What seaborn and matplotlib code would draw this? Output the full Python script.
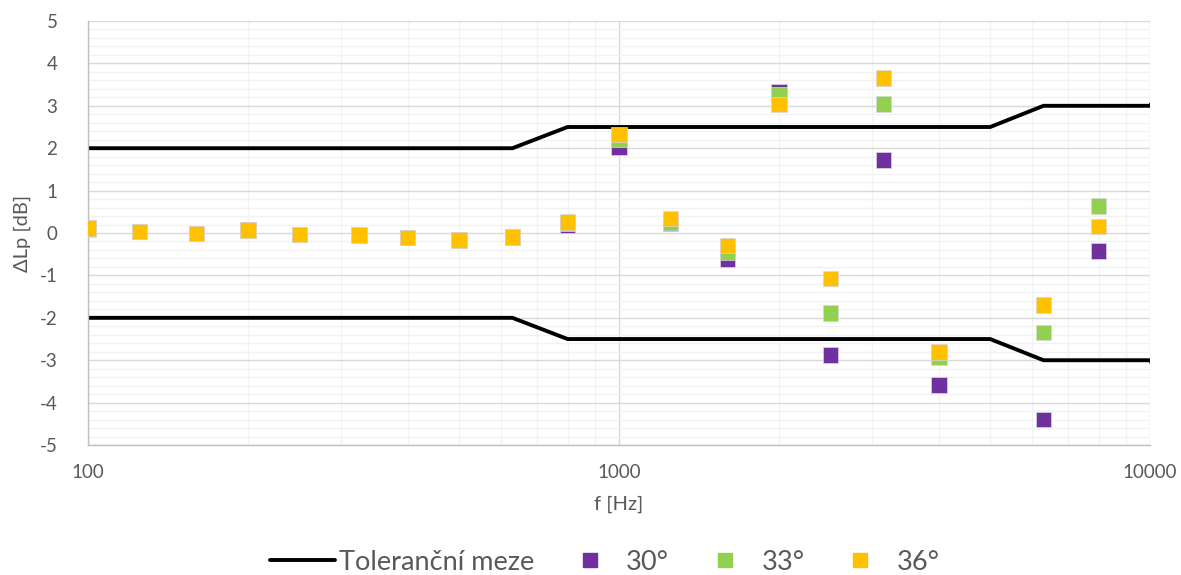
import numpy as np
import pandas as pd
import matplotlib
matplotlib.use("Agg")
import matplotlib.pyplot as plt
from matplotlib.ticker import FixedLocator, NullFormatter, MultipleLocator
from matplotlib.lines import Line2D
import seaborn as sns

# ---- data ----
freqs = [100, 125, 160, 200, 250, 324, 400, 500, 630, 800, 1000, 1250, 1600,
         2000, 2500, 3150, 4000, 6300, 8000]
d30 = [0.12, 0.04, -0.01, 0.07, -0.03, -0.04, -0.11, -0.15, -0.10, 0.18, 2.03,
       0.22, -0.62, 3.33, -2.88, 1.72, -3.58, -4.40, -0.42]
d33 = [0.09, 0.04, -0.01, 0.06, -0.03, -0.05, -0.11, -0.17, -0.10, 0.23, 2.20,
       0.26, -0.45, 3.26, -1.88, 3.04, -2.92, -2.35, 0.64]
d36 = [0.12, 0.04, -0.01, 0.07, -0.03, -0.05, -0.11, -0.17, -0.10, 0.26, 2.32,
       0.34, -0.29, 3.03, -1.07, 3.65, -2.80, -1.70, 0.15]
angles = ["30°", "33°", "36°"]

tol_f = [100, 630, 800, 5000, 6300, 10000, 12500]
tol_upper = [2.0, 2.0, 2.5, 2.5, 3.0, 3.0, 5.0]
tol_lower = [-2.0, -2.0, -2.5, -2.5, -3.0, -3.0, -5.0]
tol_label = "Toleranční meze"

colors = {"30°": "#7030A0", "33°": "#92D050", "36°": "#FFC000"}

df = pd.DataFrame({
    "f": freqs * 3,
    "dLp": d30 + d33 + d36,
    "angle": [angles[0]] * len(freqs) + [angles[1]] * len(freqs) + [angles[2]] * len(freqs),
})

sns.set_theme(style="white")
plt.rcParams["font.family"] = ["Lato", "DejaVu Sans"]
plt.rcParams["axes.unicode_minus"] = False

fig = plt.figure(figsize=(11.81, 5.75), dpi=100)
ax = fig.add_axes([0.0745, 0.226, 0.8993, 0.7375])

ax.set_xscale("log")
ax.set_xlim(100, 10000)
ax.set_ylim(-5, 5)

# grid
ax.xaxis.set_major_locator(FixedLocator([100, 1000, 10000]))
minor_x = [m * d for d in (100, 1000) for m in range(2, 10)]
ax.xaxis.set_minor_locator(FixedLocator(minor_x))
ax.xaxis.set_minor_formatter(NullFormatter())
ax.yaxis.set_major_locator(MultipleLocator(1))
ax.yaxis.set_minor_locator(MultipleLocator(0.2))
ax.grid(which="minor", color="#F2F2F2", linewidth=1.0)
ax.grid(which="major", color="#D9D9D9", linewidth=1.0)
ax.set_axisbelow(True)

# tolerance lines
sns.lineplot(x=tol_f, y=tol_upper, color="black", linewidth=2.8, ax=ax,
             label=tol_label, sort=False)
sns.lineplot(x=tol_f, y=tol_lower, color="black", linewidth=2.8, ax=ax,
             sort=False, legend=False)

# data points
sns.scatterplot(data=df, x="f", y="dLp", hue="angle", palette=colors,
                hue_order=angles, marker="s", s=125, linewidth=0.5,
                edgecolor="#d8d8d8", ax=ax, zorder=3)

ax.set_xticklabels(["100", "1000", "10000"])
ax.tick_params(axis="both", which="both", length=0, colors="#595959",
               labelsize=13.5)
ax.tick_params(axis="x", pad=14)
ax.tick_params(axis="y", pad=22)
for lab in ax.get_yticklabels():
    lab.set_horizontalalignment("right")

for side in ["top", "right"]:
    ax.spines[side].set_visible(False)
for side in ["left", "bottom"]:
    ax.spines[side].set_color("#BFBFBF")
    ax.spines[side].set_linewidth(1.0)

ax.set_xlabel("f [Hz]", fontsize=14.5, color="#595959", labelpad=10)
ax.set_ylabel("ΔLp [dB]", fontsize=14.5, color="#595959", labelpad=6)

# legend
handles = [Line2D([0], [0], color="black", linewidth=2.8)]
labels = [tol_label]
for a in angles:
    handles.append(Line2D([0], [0], marker="s", linestyle="none",
                          markerfacecolor=colors[a], markeredgecolor=colors[a],
                          markersize=10))
    labels.append(a)
if ax.get_legend() is not None:
    ax.get_legend().remove()
leg = fig.legend(handles, labels, loc="center", bbox_to_anchor=(0.512, 0.022),
                 ncol=4, frameon=False, fontsize=19.5, handlelength=2.4,
                 handletextpad=0.15, columnspacing=0.85, labelcolor="#595959")

fig.savefig("out.png", dpi=100)
